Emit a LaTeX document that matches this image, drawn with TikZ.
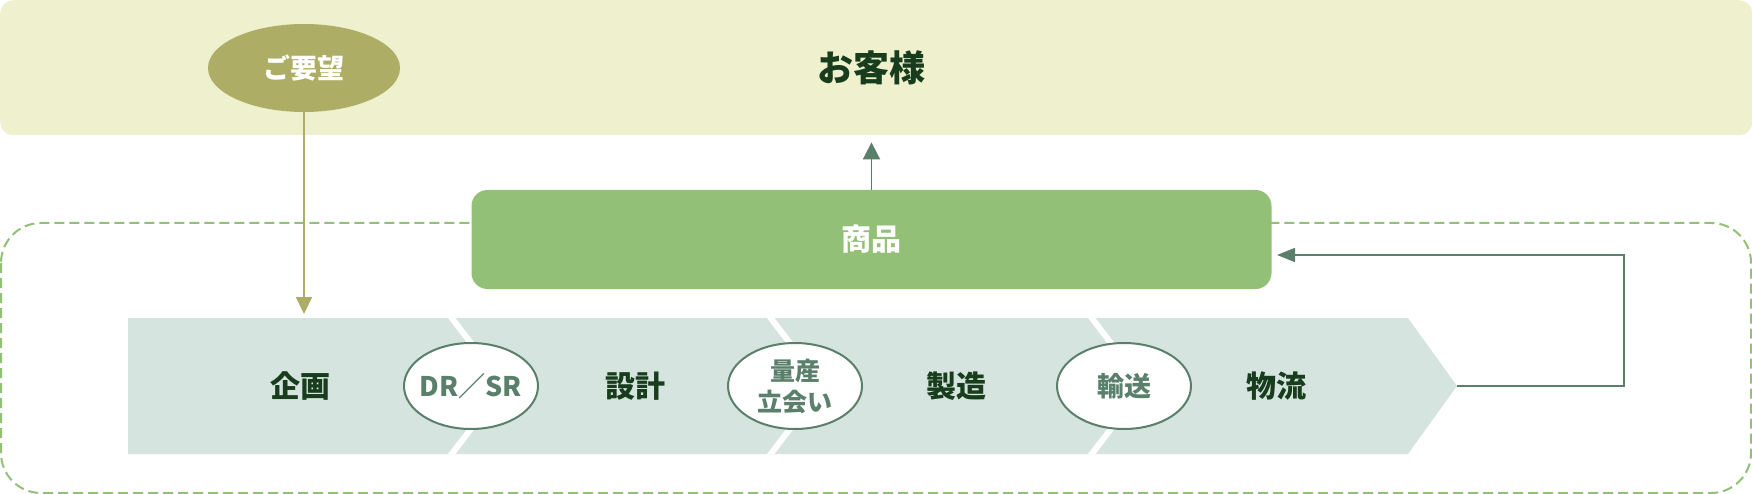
\documentclass[tikz,border=0pt]{standalone}
\usepackage{fontspec}
\setmainfont{Noto Sans CJK JP}
\usetikzlibrary{arrows.meta,shapes.geometric}
\definecolor{topbg}{HTML}{EFF0CD}
\definecolor{olive}{HTML}{ADAD66}
\definecolor{leaf}{HTML}{93C077}
\definecolor{band}{HTML}{D6E4E0}
\definecolor{dark}{HTML}{5A7F6B}
\definecolor{ink}{HTML}{183D1C}
\tikzset{
  fs/.style={font=\fontsize{#1}{#1}\selectfont\bfseries},
  label text/.style={fs=30, text=ink, inner sep=0},
  sub ellipse/.style={ellipse, draw=dark, line width=2pt, fill=white, minimum width=134, minimum height=86, inner sep=0},
  sub text/.style={text=dark, align=center, inner sep=0},
  gap/.style={fill=white, draw=none},
  conn/.style={draw=dark, line width=1.8pt}
}
\begin{document}
\begin{tikzpicture}[x=1pt,y=-1pt]
\useasboundingbox (0,0) rectangle (1752,494);
% customer band
\node[rectangle, rounded corners=13, fill=topbg, minimum width=1752, minimum height=135, inner sep=0, anchor=north west] (cust) at (0,0) {};
\node[fs=36, text=ink, inner sep=0] (custtxt) at (871.5,68) {お客様};
% request
\node[ellipse, fill=olive, minimum width=192, minimum height=88, inner sep=0, fs=27, text=white] (req) at (304,68) {ご要望};
% dashed company frame
\draw[leaf, line width=2pt, dash pattern=on 10pt off 5pt, rounded corners=40] (1,223) rectangle (1751,493);
% band
\fill[band] (128,318) -- (1408,318) -- (1457,386) -- (1408,454) -- (128,454) -- cycle;
\foreach \s in {448,767,1088}{
  \fill[gap] (\s,318) -- (\s+7.5,318) -- (\s+7.5+52,386) -- (\s+7.5,454) -- (\s,454) -- (\s+52,386) -- cycle;
}
\coordinate (tip) at (1457,386);
\coordinate (planin) at (304,318);
% product
\node[rectangle, rounded corners=16, fill=leaf, minimum width=800, minimum height=99, inner sep=0, fs=30, text=white] (prod) at (871.5,239.5) {商品};
\coordinate (prodin) at (1271.5,255);
% labels
\node[label text] (plan) at (300,386) {企画};
\node[label text] (design) at (635,386) {設計};
\node[label text] (make) at (956,386) {製造};
\node[label text] (logi) at (1276,386) {物流};
% sub ellipses
\node[sub ellipse] (dr) at (471,386) {};
\node[sub text, fs=27] (drtxt) at (dr.center) {DR／SR};
\node[sub ellipse] (mass) at (795,386) {};
\node[sub text, font=\fontsize{25}{31}\selectfont\bfseries] (masstxt) at (mass.center) {量産\\立会い};
\node[sub ellipse] (trans) at (1124,386) {};
\node[sub text, fs=27] (transtxt) at (trans.center) {輸送};
% connectors
\draw[olive, line width=2pt, -{Triangle[length=17pt,width=16pt]}, shorten >=4pt] (req.south) -- (planin);
\draw[conn, -{Triangle[length=17pt,width=17pt]}, shorten >=7pt] (prod.north) -- (prod.north |- cust.south);
\draw[conn, -{Triangle[length=18pt,width=14pt]}, shorten >=5.5pt] (tip) -- (1624,386) -- (1624,255) -- (prodin);
\end{tikzpicture}
\end{document}
